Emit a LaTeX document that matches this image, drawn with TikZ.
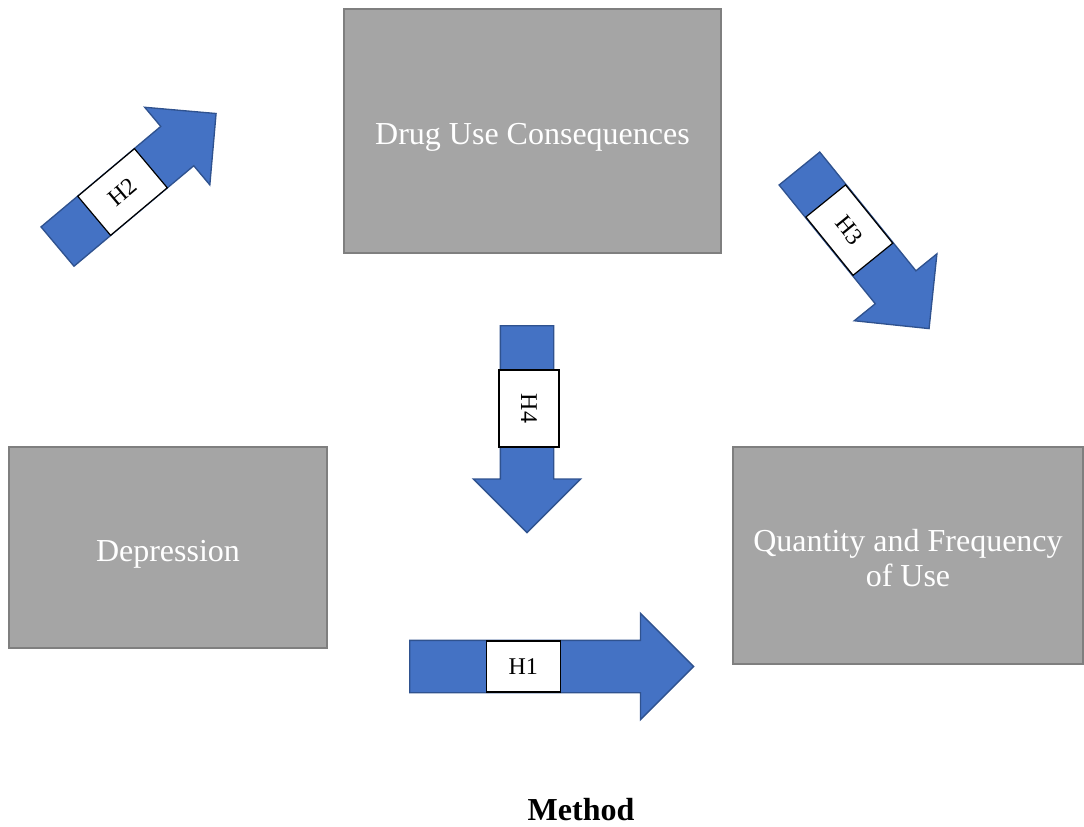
\documentclass[tikz,border=0pt]{standalone}
\usepackage{fontspec}
\setmainfont{Liberation Serif}
\usepackage{tikz}
\usetikzlibrary{positioning, calc, shapes.arrows}
\definecolor{boxgray}{HTML}{A5A5A5}
\definecolor{boxedge}{HTML}{7F7F7F}
\definecolor{arrowblue}{HTML}{4472C4}
\definecolor{arrowedge}{HTML}{2F528F}
\def\upx{0.75pt}

\begin{document}
\begin{tikzpicture}[x=0.75pt, y=-0.75pt,
        varbox/.style={draw=boxedge, fill=boxgray, line width=1.6pt,
          text=white, align=center, inner sep=0pt,
          font=\fontsize{24}{26}\selectfont},
        hyparrow/.style={single arrow, draw=arrowedge, fill=arrowblue,
          line width=1pt, inner xsep=0pt, inner ysep=25.5*\upx,
          single arrow head extend=27*\upx, anchor=tail},
        hbox/.style={draw=black, fill=white, line width=0.9pt, inner sep=0pt,
          font=\fontsize{18}{20}\selectfont}]
      \useasboundingbox (0,0) rectangle (1084,827);
      % variables
      \node[varbox, minimum width=377*\upx, minimum height=244*\upx,
        text height=20pt, text depth=0pt]
        (cons) at (532.5,131) {Drug Use Consequences};
      \node[varbox, minimum width=318*\upx, minimum height=201*\upx,
        text height=21pt, text depth=0pt]
        (dep) at (168,547.5) {Depression};
      \node[varbox, minimum width=350*\upx, minimum height=217*\upx,
        text height=46pt]
        (qty) at (908,555.5) {Quantity and Frequency\\of Use};
      % hypotheses
      \node[hyparrow, minimum height=284*\upx] (a1) at (409,666.5) {};
      \node[hyparrow, minimum height=207*\upx, rotate=40,
        inner ysep=25*\upx, single arrow head extend=25*\upx] (a2) at (57,247) {};
      \node[hyparrow, minimum height=206*\upx, rotate=-51] (a3) at (799,168) {};
      \node[hyparrow, minimum height=207*\upx, rotate=-90,
        inner ysep=26*\upx] (a4) at (527,325) {};
      \node[hbox, minimum width=74*\upx, minimum height=51*\upx]
        (h1) at ($(a1.tail)!0.4!(a1.tip)$) {H1};
      \node[hbox, rotate=40, minimum width=74*\upx, minimum height=51*\upx]
        (h2) at ($(a2.tail)!0.41!(a2.tip)$) {H2};
      \node[hbox, rotate=-51, minimum width=75*\upx, minimum height=51*\upx]
        (h3) at ($(a3.tail)!0.385!(a3.tip)$) {H3};
      \node[hbox, rotate=-90, minimum width=77*\upx, minimum height=60*\upx]
        (h4) at ($(a4.tail)!0.4!(a4.tip)+(2,0)$) {H4};
      \node[font=\fontsize{24}{26}\selectfont\bfseries, inner sep=0pt]
        (method) at (581,810) {Method};
    \end{tikzpicture}
\end{document}
